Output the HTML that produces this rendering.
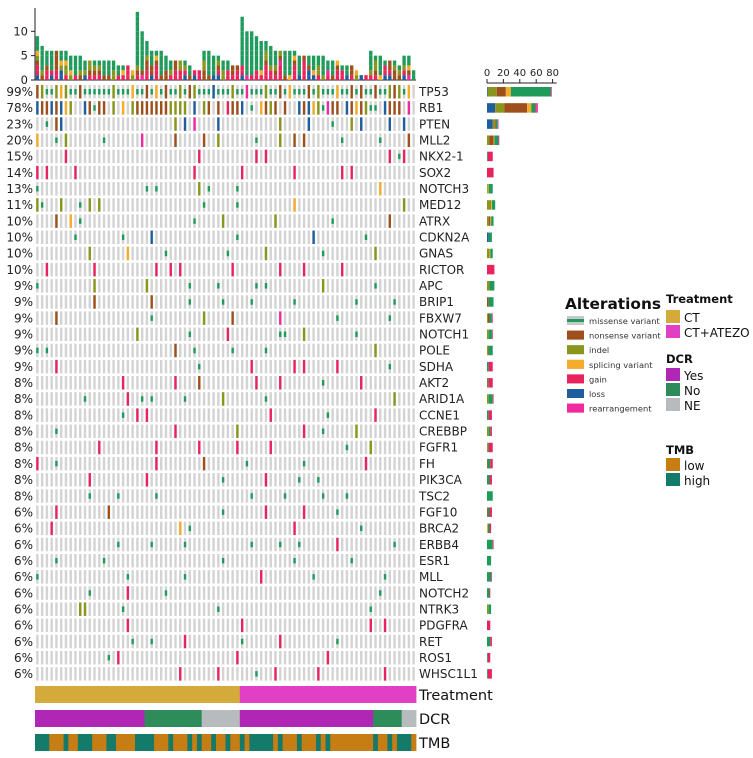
<!DOCTYPE html>
<html><head><meta charset="utf-8">
<style>
html,body{margin:0;padding:0;background:#fff;}
svg{display:block;font-family:"DejaVu Sans","Liberation Sans",sans-serif;}
</style></head>
<body>
<svg id="chart" width="753" height="758" viewBox="0 0 753 758" xmlns="http://www.w3.org/2000/svg">
  <g id="topg"></g>
  <g id="matrix"></g>
  <g id="right"></g>
  <g id="annot"></g>
  <g id="legend">
    <text x="565" y="309" font-size="15.5" font-weight="bold" fill="#111" textLength="96" lengthAdjust="spacingAndGlyphs">Alterations</text>
    <text x="666" y="303" font-size="11.5" font-weight="bold" fill="#111">Treatment</text>
    <text x="666" y="363" font-size="11.5" font-weight="bold" fill="#111">DCR</text>
    <text x="666" y="454" font-size="11.5" font-weight="bold" fill="#111">TMB</text>
  </g>
</svg>
<script>
const NS="http://www.w3.org/2000/svg";
const genes=["TP53","RB1","PTEN","MLL2","NKX2-1","SOX2","NOTCH3","MED12","ATRX","CDKN2A","GNAS","RICTOR","APC","BRIP1","FBXW7","NOTCH1","POLE","SDHA","AKT2","ARID1A","CCNE1","CREBBP","FGFR1","FH","PIK3CA","TSC2","FGF10","BRCA2","ERBB4","ESR1","MLL","NOTCH2","NTRK3","PDGFRA","RET","ROS1","WHSC1L1"];
const pcts=["99%","78%","23%","20%","15%","14%","13%","11%","10%","10%","10%","10%","9%","9%","9%","9%","9%","9%","8%","8%","8%","8%","8%","8%","8%","8%","6%","6%","6%","6%","6%","6%","6%","6%","6%","6%","6%"];
const alts=[
"nimmisimmnmmmmmmimmmsmmnmsmnmmimnimmmlmmmimmrmmmimmnmsmmmnmimmmsmmnmnmmnmminims",
"lnnlnlsi..lnmnn.i.s.innnnnnniiii.l.in.n.gnnl.m.snin.n..lnlsimrnn.lnsnimm.lnnn.r",
"..m.nl.......................i.l.r....l............i.....l....m...i.l.....l..l",
"s...m.i.......m.......r......n.....n..i.......m....i..n.n.......m.......m.....n",
"......g...........................g...........g.g.........................g.mg",
"g.g.....g........................g.........g..........g.........g.g.........",
"m......................m.m........i.m.....m.............................s.....",
"im...i...m.i.i.....................m......m...........s......................i",
"....n..s.m.......................m.....i..........i...........m...........n...",
"........m.........m.....l.................m...............l..........m.......",
"...........i.......s.......m............m.......i...........m..........i.....",
"..g.........g............g..g.g..........g.........g....g.......g.............",
"m...........i..........i........m.....m.......m.m...........i..........m.....",
"............n...........n.......m......m.....m........m............m.......m.",
"....n...................m..........i.....n.........r...........m..........m.",
".....................i..........m.......g..........mm...i..........m.........",
"m.m..........................n...m.......m......m......................i.....",
"....g.............................m..........g........g.g......g..........m..",
"..................g..........g....n...........g....g........m.......g........",
"..........m........g..m.m......m.......i........m..........................i.",
"..................m..g.g.........................g...........m.........g.....",
"....m........................g............i.............g...m......i........",
".............g...........g........g.......g......g...............m....i......",
"g...m....................g.........n........m...........m............g.......",
"...........g...........g...............m........g......m...m................",
"...........m.....m.......m...................m......m.......m....m...........",
"....g..........n.......................m........g.......g......m............",
"...g..........................s.m.....................g.............m.......",
".................m......m......m.............m.....m...m.......g...........m.",
"....m.........m........................m..............m...........m..........",
"m..................m...........m...............g..........m..............m...",
"...........m.......g.......m............................................m....",
".........ii.......m...................m...............................m.......",
"...................g.......................g..........................g..g....",
"....................m...m......g...........m.......g...........m.............",
"...............m.g........................g..................g...............",
"..............................g.......g.......m...g........g.............g..."
];
const topTotals=[9,7,6,6,6,6,6,5,5,5,4,4,4,4,4,4,4,3,3,3,2,14,10,8,6,6,6,5,4,4,4,4,3,2,2,6,6,5,5,4,4,3,3,13,10,10,9,8,8,7,6,6,6,6,6,5,5,5,5,5,5,4,4,4,3,3,3,2,1,1,6,5,5,4,4,4,3,5,5,2];
const treatment="CCCCCCCCCCCCCCCCCCCCCCCCCCCCCCCCCCCCCCCCCCCAAAAAAAAAAAAAAAAAAAAAAAAAAAAAAAAAAAAA";
const dcr="YYYYYYYYYYYYYYYYYYYYYYYNNNNNNNNNNNNEEEEEEEEYYYYYYYYYYYYYYYYYYYYYYYYYYYYNNNNNNEEE";
const tmb="HHHLLLHLLHHHLLLHHLLLLHHHHLLLHLLLHLHLLHLLHLLHLHHHHHLHLLLHLLLHLHLLLLLLLLLHLLHLHHHL";
const rightTicks=[0,20,40,60,80];
const topTicks=[0,5,10];

const N=topTotals.length;
const colors={m:"#1e9b5b",n:"#9e4f1c",i:"#8a961b",s:"#f4ac2a",g:"#e8235e",l:"#1f5d9c",r:"#f02a9e"};
const names={m:"missense variant",n:"nonsense variant",i:"indel",s:"splicing variant",g:"gain",l:"loss",r:"rearrangement"};
const order=["l","g","r","n","i","s","m"];
const x0=35,x1=416,cw=(x1-x0)/N,rowY0=84,rh=16.17;
const xs=i=>x0+i*cw;
const rowY=r=>rowY0+r*rh;
const topY=v=>80-v*4.87;
const rightX=v=>487+v*0.82;
function el(tag,attrs,parent){const e=document.createElementNS(NS,tag);for(const k in attrs)e.setAttribute(k,attrs[k]);parent.appendChild(e);return e;}
const topG=document.getElementById("topg"),mat=document.getElementById("matrix"),rightG=document.getElementById("right"),annot=document.getElementById("annot"),leg=document.getElementById("legend");
const A=alts.map(s=>s.padEnd(N,".").slice(0,N));

let ax=el("line",{x1:x0,y1:topY(0),x2:x0,y2:8,stroke:"#222","stroke-width":1},topG);


topTicks.forEach(t=>{
  let tk=el("line",{x1:x0-4,y1:topY(t),x2:x0,y2:topY(t),stroke:"#222"},topG);
  
  
  let tl=el("text",{x:x0-7,y:topY(t)+4,"font-size":11.5,"text-anchor":"end",fill:"#222"},topG);
  tl.textContent=t;
  
  
});
let bl=el("line",{x1:x0,y1:topY(0),x2:x1,y2:topY(0),stroke:"#222"},topG);


topTotals.forEach((tot,i)=>{
  const segs=[];
  order.forEach(c=>{for(let r=0;r<A.length;r++){if(A[r][i]===c&&c!=="m"&&segs.length<tot)segs.push(c);}});
  while(segs.length<tot)segs.push("m");
  segs.sort((a,b)=>order.indexOf(a)-order.indexOf(b));
  segs.forEach((c,k)=>{
    let b=el("rect",{x:xs(i)+0.7,y:topY(k+1),width:cw-1.4,height:4.87,fill:colors[c]},topG);
    
    
  });
});
genes.forEach((g,r)=>{
  const y=rowY(r);
  let pl=el("text",{x:33,y:y+12,"font-size":12,"text-anchor":"end",fill:"#222"},mat);
  pl.textContent=pcts[r];
  
  
  let gl=el("text",{x:419,y:y+12,"font-size":12,fill:"#222"},mat);
  gl.textContent=g;
  
  
  const counts={};
  for(let i=0;i<N;i++){
    const cx=xs(i)+cw/2-1.2;
    let bg=el("rect",{x:cx,y:y+1,width:2.4,height:13.5,fill:"#d3d3d3"},mat);
    
    
    const c=A[r][i];
    if(c!=="."){
      counts[c]=(counts[c]||0)+1;
      let m;
      if(c==="m") m=el("rect",{x:cx,y:y+5,width:2.4,height:5.5,fill:colors[c]},mat);
      else m=el("rect",{x:cx,y:y+1,width:2.4,height:13.5,fill:colors[c]},mat);
      
      
    }
  }
  let cur=0;
  ["l","i","n","s","m","g","r"].forEach(c=>{
    if(!counts[c])return;
    let rb=el("rect",{x:rightX(cur),y:y+3,width:rightX(cur+counts[c])-rightX(cur),height:9.5,fill:colors[c]},rightG);
    
    
    cur+=counts[c];
  });
});
let rax=el("line",{x1:rightX(0),y1:83,x2:rightX(85),y2:83,stroke:"#222"},rightG);


rightTicks.forEach(t=>{
  let tk=el("line",{x1:rightX(t),y1:79,x2:rightX(t),y2:83,stroke:"#222"},rightG);
  
  
  let tl=el("text",{x:rightX(t),y:76,"font-size":10,"text-anchor":"middle",fill:"#222"},rightG);
  tl.textContent=t;
  
  
});
const tracks=[["Treatment",treatment,{C:"#d4aa3a",A:"#e13fc4"},686],["DCR",dcr,{Y:"#b026b5",N:"#2e8b5a",E:"#b8bbbd"},710],["TMB",tmb,{L:"#c57d14",H:"#147a6a"},734]];
tracks.forEach(([nm,s,cmap,y])=>{
  for(let i=0;i<N;i++){
    let a=el("rect",{x:xs(i),y:y,width:cw+0.4,height:17,fill:cmap[s[i]]},annot);
    
    
  }
  let t=el("text",{x:419,y:y+14,"font-size":14.5,fill:"#111"},annot);
  t.textContent=nm;
  
  
});
["m","n","i","s","g","l","r"].forEach((c,k)=>{
  const y=316+k*14.6;
  let sw=el("rect",{x:567,y:y,width:17,height:9,fill:"#c8c8c8"},leg);
  
  
  let s2=el("rect",{x:567,y:c==="m"?y+3:y,width:17,height:c==="m"?3:9,fill:colors[c]},leg);
  
  
  let t=el("text",{x:589,y:y+8,"font-size":8.3,fill:"#333"},leg);
  t.textContent=names[c];
  
  
});
const annLeg=[["CT","#d4aa3a",310],["CT+ATEZO","#e13fc4",325],["Yes","#b026b5",368],["No","#2e8b5a",383],["NE","#b8bbbd",398],["low","#c57d14",458],["high","#147a6a",473]];
annLeg.forEach(([lab,col,y])=>{
  let sw=el("rect",{x:666,y:y,width:14,height:13,fill:col},leg);
  
  
  let t=el("text",{x:684,y:y+12,"font-size":12,fill:"#111"},leg);
  t.textContent=lab;
  
  
});
</script>
</body></html>
